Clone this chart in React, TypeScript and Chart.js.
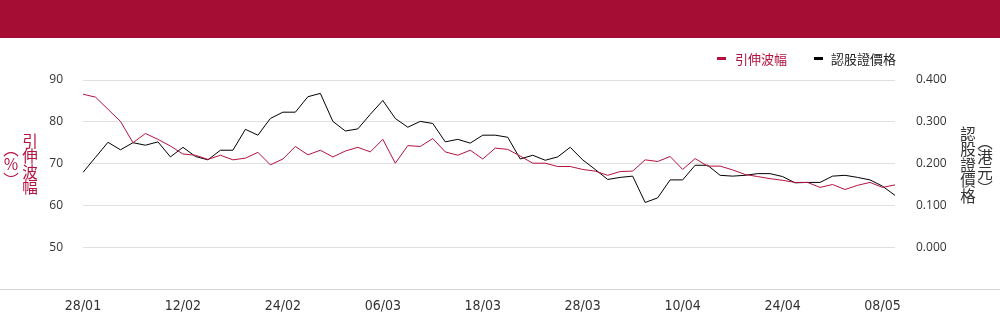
import React, { useEffect, useRef } from 'react';
import { Chart, registerables } from 'chart.js';

Chart.register(...registerables);

const dates = [
  '28/01', '03/02', '04/02', '05/02', '06/02', '07/02', '10/02', '11/02',
  '12/02', '13/02', '14/02', '17/02', '18/02', '19/02', '20/02', '21/02',
  '24/02', '25/02', '26/02', '27/02', '28/02', '03/03', '04/03', '05/03',
  '06/03', '07/03', '10/03', '11/03', '12/03', '13/03', '14/03', '17/03',
  '18/03', '19/03', '20/03', '21/03', '24/03', '25/03', '26/03', '27/03',
  '28/03', '31/03', '01/04', '02/04', '03/04', '07/04', '08/04', '09/04',
  '10/04', '11/04', '14/04', '15/04', '16/04', '17/04', '22/04', '23/04',
  '24/04', '25/04', '28/04', '29/04', '30/04', '02/05', '06/05', '07/05',
  '08/05', '09/05',
];

const xTickLabels = ['28/01', '12/02', '24/02', '06/03', '18/03', '28/03', '10/04', '24/04', '08/05'];

const impliedVolatility = [
  86.6, 85.9, 83.0, 80.1, 75.0, 77.2, 75.8, 74.2,
  72.3, 72.0, 71.0, 72.0, 70.9, 71.3, 72.7, 69.7,
  71.1, 74.1, 72.1, 73.2, 71.6, 73.0, 73.9, 72.8,
  75.8, 70.1, 74.3, 74.1, 76.0, 72.8, 72.0, 73.2,
  71.1, 73.7, 73.4, 71.8, 70.1, 70.1, 69.3, 69.3,
  68.6, 68.2, 67.2, 68.1, 68.2, 70.9, 70.5, 71.7,
  68.6, 71.2, 69.4, 69.4, 68.5, 67.4, 66.9, 66.4,
  66.0, 65.5, 65.5, 64.3, 65.0, 63.8, 64.8, 65.5,
  64.3, 64.9,
];

const warrantPrice = [
  0.179, 0.215, 0.251, 0.233, 0.250, 0.244, 0.252, 0.216,
  0.239, 0.217, 0.209, 0.232, 0.232, 0.282, 0.268, 0.308,
  0.323, 0.323, 0.360, 0.368, 0.301, 0.278, 0.283, 0.318,
  0.351, 0.308, 0.287, 0.301, 0.296, 0.252, 0.258, 0.249,
  0.268, 0.268, 0.263, 0.211, 0.220, 0.208, 0.216, 0.239,
  0.209, 0.186, 0.162, 0.167, 0.170, 0.107, 0.118, 0.161,
  0.161, 0.196, 0.196, 0.172, 0.170, 0.172, 0.176, 0.176,
  0.169, 0.154, 0.155, 0.155, 0.170, 0.172, 0.167, 0.161,
  0.146, 0.124,
];

const leftAxisMin = 40;
const leftAxisMax = 90;
const rightAxisMin = -0.1;
const rightAxisMax = 0.4;

const RED = '#B3123F';
const HEADER = '#A50D34';
const CJK = '"Noto Sans CJK TC", "Noto Sans CJK SC", sans-serif';

export default function App() {
  const canvasRef = useRef<HTMLCanvasElement | null>(null);

  useEffect(() => {
    document.body.style.margin = '0';
    const canvas = canvasRef.current;
    if (!canvas) return;
    const chart = new Chart(canvas, {
      type: 'line',
      data: {
        labels: dates,
        datasets: [
          {
            label: '引伸波幅',
            data: impliedVolatility,
            yAxisID: 'yL',
            borderColor: RED,
            borderWidth: 1,
            pointRadius: 0,
            tension: 0,
            fill: false,
          },
          {
            label: '認股證價格',
            data: warrantPrice,
            yAxisID: 'yR',
            borderColor: '#000000',
            borderWidth: 1,
            pointRadius: 0,
            tension: 0,
            fill: false,
          },
        ],
      },
      options: {
        responsive: false,
        animation: false,
        layout: { padding: { top: 80, left: 0, right: 0, bottom: 0 } },
        plugins: {
          legend: { display: false },
          tooltip: { enabled: false },
        },
        scales: {
          x: {
            type: 'category',
            offset: false,
            grid: { display: false, drawTicks: false },
            border: { display: false },
            ticks: {
              autoSkip: false,
              maxRotation: 0,
              minRotation: 0,
              padding: 9,
              color: '#333',
              font: { family: '"Liberation Sans Narrow", "DejaVu Sans Condensed", sans-serif', size: 14 },
              callback: (_v: any, i: number) => (xTickLabels.includes(dates[i]) ? dates[i] : ''),
            },
            afterFit: (s: any) => { s.height = 35; },
          },
          yL: {
            position: 'left',
            min: leftAxisMin,
            max: leftAxisMax,
            grid: {
              drawTicks: false,
              color: (ctx: any) => (ctx.tick && ctx.tick.value === leftAxisMin ? 'rgba(0,0,0,0)' : '#e0e0e0'),
            },
            border: { display: false },
            ticks: {
              stepSize: 10,
              padding: 20,
              color: '#333',
              font: { family: '"Open Sans", sans-serif', size: 12 },
              callback: (v: any) => (Number(v) === leftAxisMin ? '' : String(v)),
            },
            afterFit: (s: any) => { s.width = 83; },
          },
          yR: {
            position: 'right',
            min: rightAxisMin,
            max: rightAxisMax,
            grid: { display: false, drawTicks: false },
            border: { display: false },
            ticks: {
              stepSize: 0.1,
              padding: 21,
              color: '#333',
              font: { family: '"Open Sans", sans-serif', size: 12 },
              callback: (v: any) => (Number(v) < -0.05 ? '' : Number(v).toFixed(3)),
            },
            afterFit: (s: any) => { s.width = 105; },
          },
        },
      },
    });
    return () => chart.destroy();
  }, []);

  const abs = (style: React.CSSProperties): React.CSSProperties => ({ position: 'absolute', ...style });

  return (
    <div style={{ position: 'absolute', left: 0, top: 0, width: 1000, height: 324, overflow: 'hidden', background: '#fff' }}>
      <div style={abs({ left: 0, top: 0, width: 1000, height: 38, background: HEADER })} />
      <div style={abs({ left: 0, top: 289, width: 1000, height: 1, background: '#d4d4d4' })} />
      <canvas ref={canvasRef} width={1000} height={324} style={abs({ left: 0, top: 0, width: 1000, height: 324 })} />

      <div style={abs({ left: 717, top: 57, width: 9, height: 3, background: RED })} />
      <div style={abs({ left: 735, top: 49, height: 19, lineHeight: '19px', fontSize: 13, fontFamily: CJK, color: RED, whiteSpace: 'nowrap' })}>引伸波幅</div>
      <div style={abs({ left: 814, top: 57, width: 9, height: 3, background: '#000' })} />
      <div style={abs({ left: 831, top: 49, height: 19, lineHeight: '19px', fontSize: 13, fontFamily: CJK, color: '#222', whiteSpace: 'nowrap' })}>認股證價格</div>

      <div style={abs({ left: 22, top: 133, writingMode: 'vertical-rl', textOrientation: 'upright', fontSize: 15.5, lineHeight: '16px', fontFamily: CJK, color: RED, whiteSpace: 'nowrap' })}>引伸波幅</div>
      <div style={abs({ left: 3, top: 141, writingMode: 'vertical-rl', textOrientation: 'upright', fontSize: 15.5, lineHeight: '16px', fontFamily: CJK, color: RED, whiteSpace: 'nowrap' })}>（％）</div>

      <div style={abs({ left: 960, top: 126, writingMode: 'vertical-rl', textOrientation: 'upright', fontSize: 15.5, lineHeight: '16px', fontFamily: CJK, color: '#333', whiteSpace: 'nowrap' })}>認股證價格</div>
      <div style={abs({ left: 977, top: 134, writingMode: 'vertical-rl', textOrientation: 'upright', fontSize: 15.5, lineHeight: '16px', fontFamily: CJK, color: '#333', whiteSpace: 'nowrap' })}>（港元）</div>
    </div>
  );
}
